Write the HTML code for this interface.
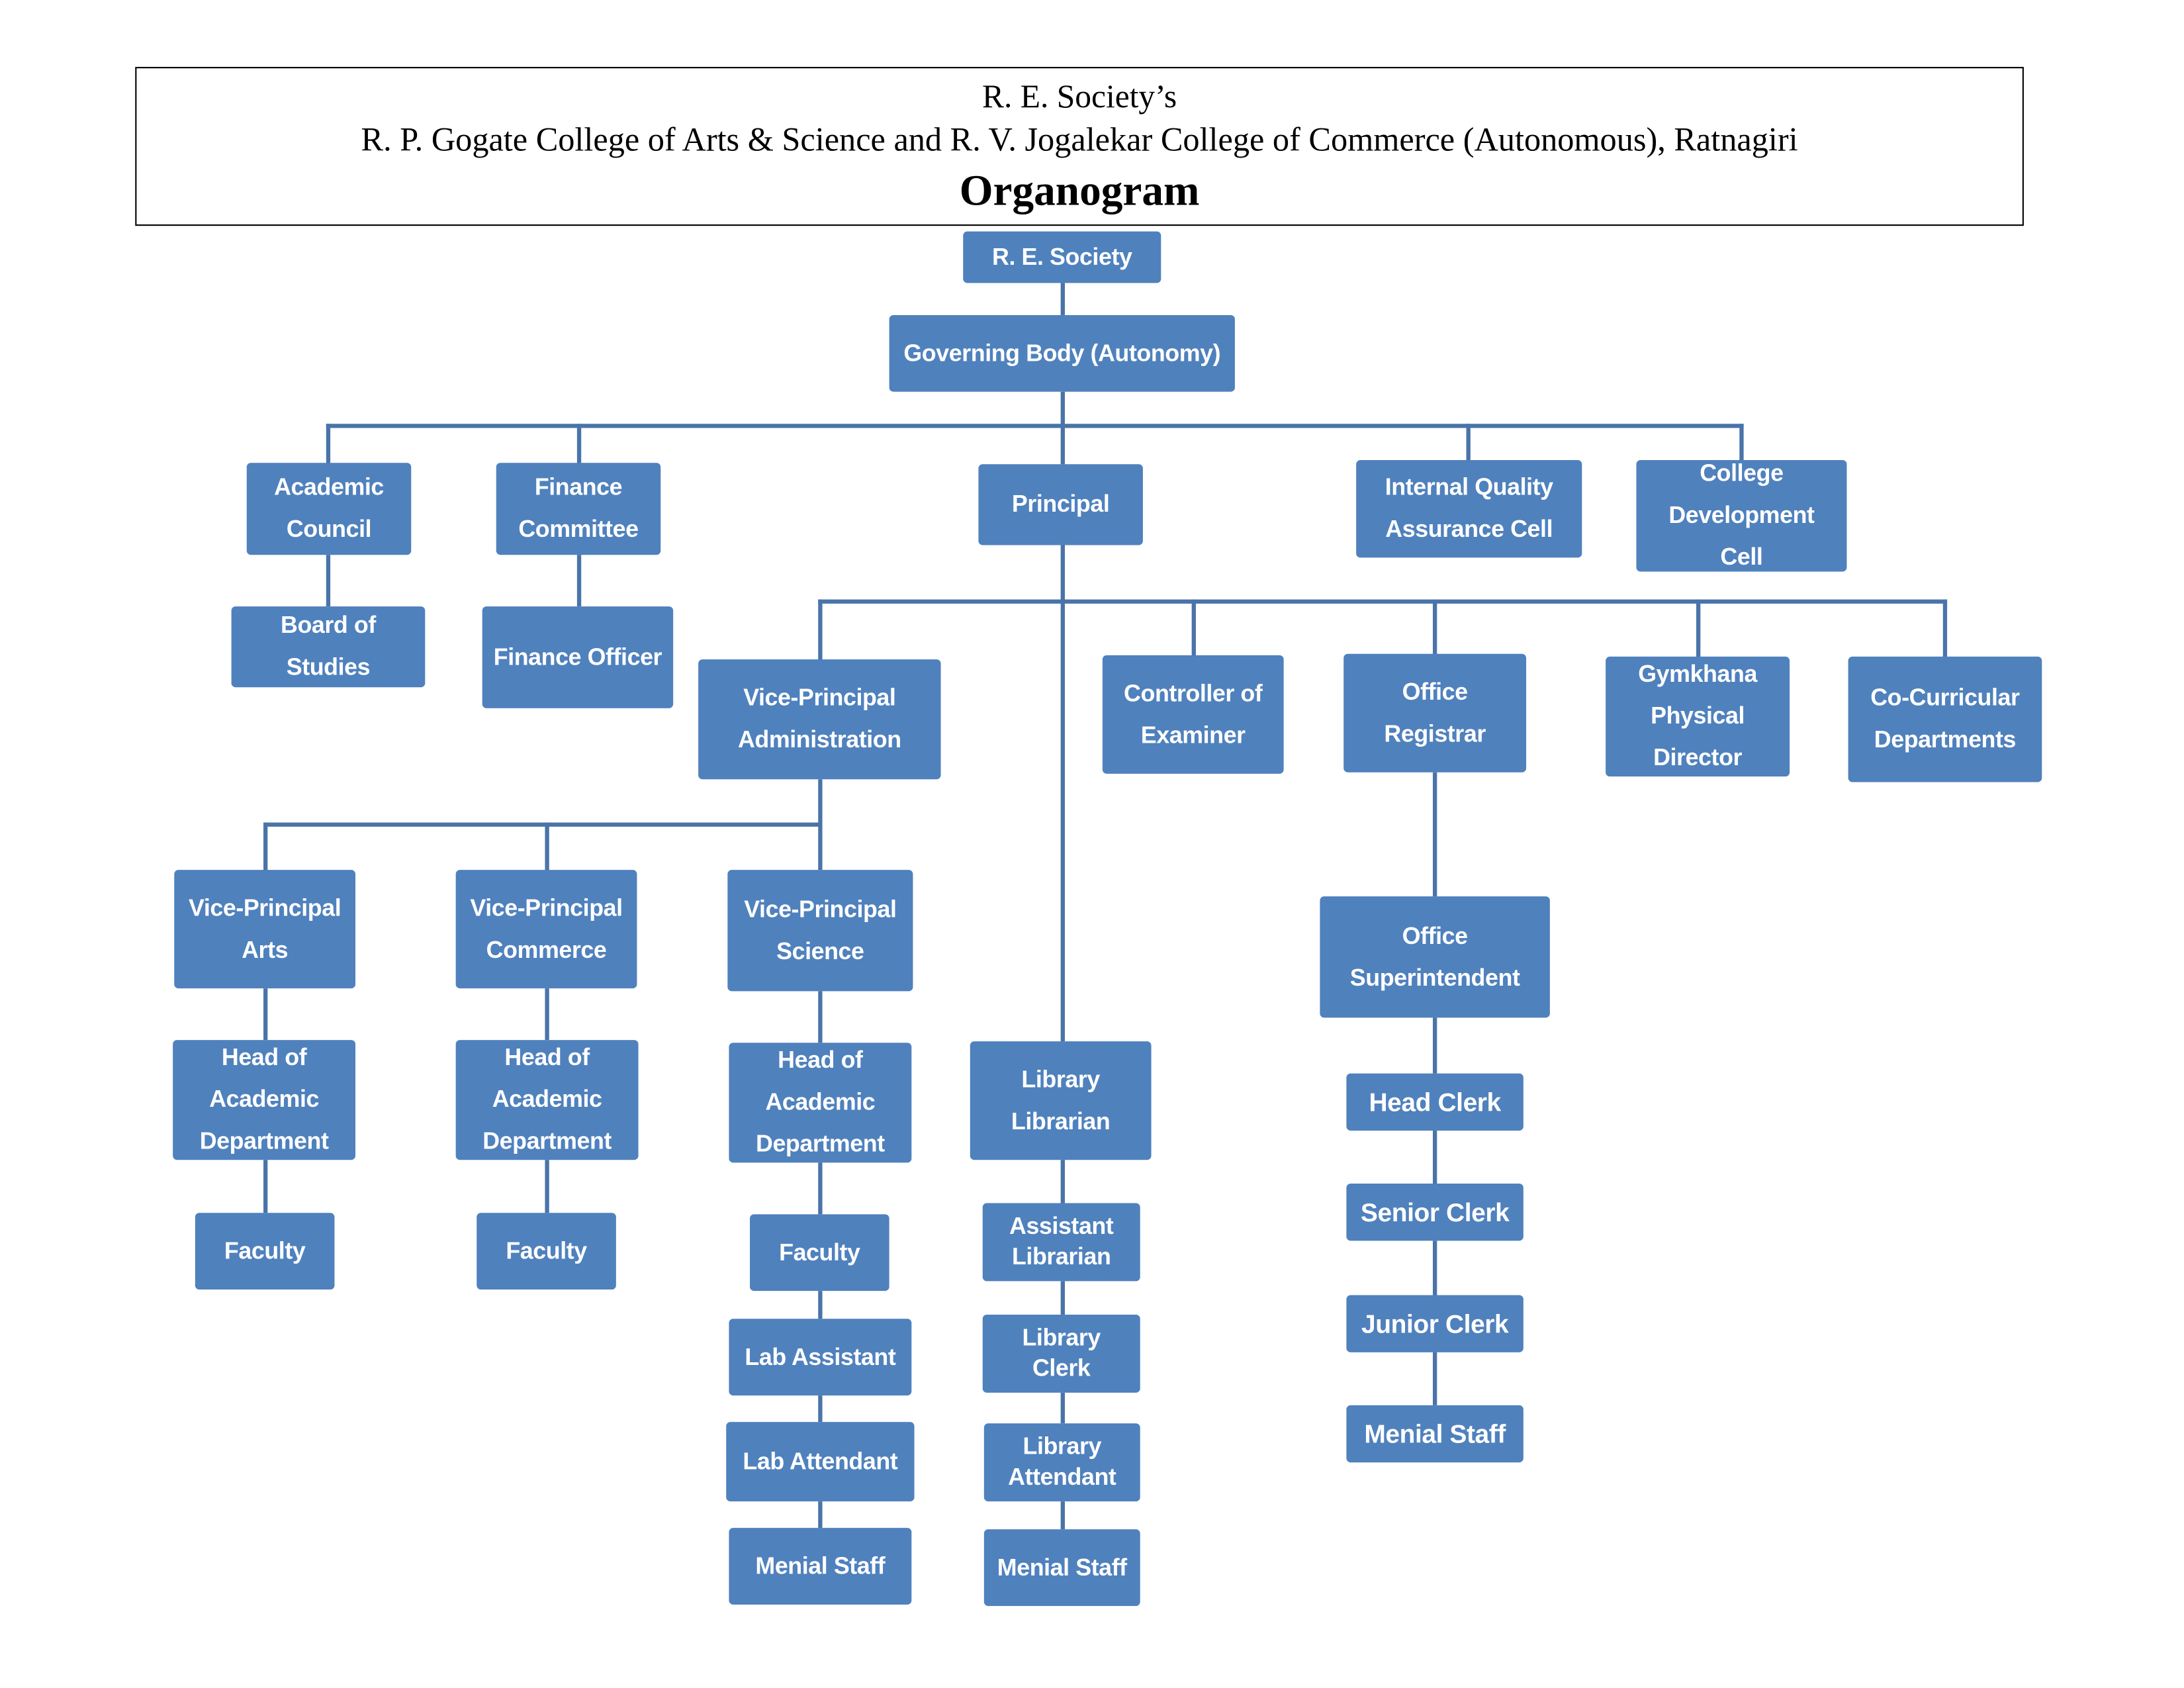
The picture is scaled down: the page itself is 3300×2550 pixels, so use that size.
<!DOCTYPE html>
<html><head><meta charset="utf-8"><style>
html,body{margin:0;padding:0;background:#fff;}
body{width:3300px;height:2550px;overflow:hidden;position:relative;}
#w{position:absolute;left:0;top:0;width:1568px;height:1211px;transform:scale(2.106);transform-origin:0 0;}
.b{position:absolute;background:#4F81BD;color:#fff;border-radius:3px;display:flex;align-items:center;justify-content:center;text-align:center;font-family:"Liberation Sans",sans-serif;font-weight:bold;font-size:17px;line-height:30px;letter-spacing:-0.2px;box-sizing:border-box;white-space:nowrap;}
.s{line-height:22px;}
.c{font-size:18.5px;}
.l{position:absolute;background:#4A74A9;}
#t{position:absolute;left:97px;top:48px;width:1355px;height:114px;border:1.2px solid #000;box-sizing:border-box;font-family:"Liberation Serif",serif;text-align:center;color:#000;}
</style></head><body><div id="w">
<div id="t">
<div style="position:absolute;left:0;right:0;top:8px;font-size:23.5px;">R. E. Society’s</div>
<div style="position:absolute;left:0;right:0;top:39px;font-size:23.9px;">R. P. Gogate College of Arts &amp; Science and R. V. Jogalekar College of Commerce (Autonomous), Ratnagiri</div>
<div style="position:absolute;left:0;right:0;top:70px;font-size:31px;font-weight:bold;">Organogram</div>
</div>

<!-- lines -->
<div class="l" style="left:760.5px;top:203px;width:3px;height:23px"></div>
<div class="l" style="left:760.5px;top:281px;width:3px;height:52px"></div>
<div class="l" style="left:233.5px;top:303.5px;width:1017px;height:3px"></div>
<div class="l" style="left:233.5px;top:303.5px;width:3px;height:29px"></div>
<div class="l" style="left:413.5px;top:303.5px;width:3px;height:29px"></div>
<div class="l" style="left:1051.5px;top:303.5px;width:3px;height:27px"></div>
<div class="l" style="left:1247.5px;top:303.5px;width:3px;height:27px"></div>
<div class="l" style="left:233.5px;top:398px;width:3px;height:37px"></div>
<div class="l" style="left:413.5px;top:398px;width:3px;height:37px"></div>
<div class="l" style="left:760.5px;top:391px;width:3px;height:356px"></div>
<div class="l" style="left:586.5px;top:429.5px;width:810px;height:3px"></div>
<div class="l" style="left:586.5px;top:429.5px;width:3px;height:44px"></div>
<div class="l" style="left:854.5px;top:429.5px;width:3px;height:41px"></div>
<div class="l" style="left:1027.5px;top:429.5px;width:3px;height:40px"></div>
<div class="l" style="left:1216.5px;top:429.5px;width:3px;height:42px"></div>
<div class="l" style="left:1393.5px;top:429.5px;width:3px;height:42px"></div>
<div class="l" style="left:586.5px;top:559px;width:3px;height:65px"></div>
<div class="l" style="left:188.5px;top:589.5px;width:400px;height:3px"></div>
<div class="l" style="left:188.5px;top:589.5px;width:3px;height:35px"></div>
<div class="l" style="left:390.5px;top:589.5px;width:3px;height:35px"></div>
<div class="l" style="left:188.5px;top:709px;width:3px;height:37px"></div>
<div class="l" style="left:390.5px;top:709px;width:3px;height:37px"></div>
<div class="l" style="left:586.5px;top:711px;width:3px;height:37px"></div>
<div class="l" style="left:188.5px;top:832px;width:3px;height:38px"></div>
<div class="l" style="left:390.5px;top:832px;width:3px;height:38px"></div>
<div class="l" style="left:586.5px;top:834px;width:3px;height:37px"></div>
<div class="l" style="left:586.5px;top:926px;width:3px;height:20px"></div>
<div class="l" style="left:586.5px;top:1001px;width:3px;height:19px"></div>
<div class="l" style="left:586.5px;top:1077px;width:3px;height:19px"></div>
<div class="l" style="left:760.5px;top:832px;width:3px;height:31px"></div>
<div class="l" style="left:760.5px;top:919px;width:3px;height:24px"></div>
<div class="l" style="left:760.5px;top:999px;width:3px;height:22px"></div>
<div class="l" style="left:760.5px;top:1077px;width:3px;height:20px"></div>
<div class="l" style="left:1027.5px;top:554px;width:3px;height:89px"></div>
<div class="l" style="left:1027.5px;top:730px;width:3px;height:40px"></div>
<div class="l" style="left:1027.5px;top:811px;width:3px;height:38px"></div>
<div class="l" style="left:1027.5px;top:890px;width:3px;height:39px"></div>
<div class="l" style="left:1027.5px;top:970px;width:3px;height:38px"></div>

<!-- boxes -->
<div class="b" style="left:691px;top:166px;width:142px;height:37px">R. E. Society</div>
<div class="b" style="left:638px;top:226px;width:248px;height:55px">Governing Body (Autonomy)</div>
<div class="b" style="left:177px;top:332px;width:118px;height:66px">Academic<br>Council</div>
<div class="b" style="left:356px;top:332px;width:118px;height:66px">Finance<br>Committee</div>
<div class="b" style="left:702px;top:333px;width:118px;height:58px">Principal</div>
<div class="b" style="left:973px;top:330px;width:162px;height:70px">Internal Quality<br>Assurance Cell</div>
<div class="b" style="left:1174px;top:330px;width:151px;height:80px">College<br>Development<br>Cell</div>
<div class="b" style="left:166px;top:435px;width:139px;height:58px">Board of<br>Studies</div>
<div class="b" style="left:346px;top:435px;width:137px;height:73px">Finance Officer</div>
<div class="b" style="left:501px;top:473px;width:174px;height:86px">Vice-Principal<br>Administration</div>
<div class="b" style="left:791px;top:470px;width:130px;height:85px">Controller of<br>Examiner</div>
<div class="b" style="left:964px;top:469px;width:131px;height:85px">Office<br>Registrar</div>
<div class="b" style="left:1152px;top:471px;width:132px;height:86px">Gymkhana<br>Physical<br>Director</div>
<div class="b" style="left:1326px;top:471px;width:139px;height:90px">Co-Curricular<br>Departments</div>
<div class="b" style="left:125px;top:624px;width:130px;height:85px">Vice-Principal<br>Arts</div>
<div class="b" style="left:327px;top:624px;width:130px;height:85px">Vice-Principal<br>Commerce</div>
<div class="b" style="left:522px;top:624px;width:133px;height:87px">Vice-Principal<br>Science</div>
<div class="b" style="left:124px;top:746px;width:131px;height:86px">Head of<br>Academic<br>Department</div>
<div class="b" style="left:327px;top:746px;width:131px;height:86px">Head of<br>Academic<br>Department</div>
<div class="b" style="left:523px;top:748px;width:131px;height:86px">Head of<br>Academic<br>Department</div>
<div class="b" style="left:140px;top:870px;width:100px;height:55px">Faculty</div>
<div class="b" style="left:342px;top:870px;width:100px;height:55px">Faculty</div>
<div class="b" style="left:538px;top:871px;width:100px;height:55px">Faculty</div>
<div class="b" style="left:523px;top:946px;width:131px;height:55px">Lab Assistant</div>
<div class="b" style="left:521px;top:1020px;width:135px;height:57px">Lab Attendant</div>
<div class="b" style="left:523px;top:1096px;width:131px;height:55px">Menial Staff</div>
<div class="b" style="left:696px;top:747px;width:130px;height:85px">Library<br>Librarian</div>
<div class="b s" style="left:705px;top:863px;width:113px;height:56px">Assistant<br>Librarian</div>
<div class="b s" style="left:705px;top:943px;width:113px;height:56px">Library<br>Clerk</div>
<div class="b s" style="left:706px;top:1021px;width:112px;height:56px">Library<br>Attendant</div>
<div class="b" style="left:706px;top:1097px;width:112px;height:55px;font-size:17px">Menial Staff</div>
<div class="b" style="left:947px;top:643px;width:165px;height:87px">Office<br>Superintendent</div>
<div class="b c" style="left:966px;top:770px;width:127px;height:41px">Head Clerk</div>
<div class="b c" style="left:966px;top:849px;width:127px;height:41px">Senior Clerk</div>
<div class="b c" style="left:966px;top:929px;width:127px;height:41px">Junior Clerk</div>
<div class="b c" style="left:966px;top:1008px;width:127px;height:41px">Menial Staff</div>
</div></body></html>
